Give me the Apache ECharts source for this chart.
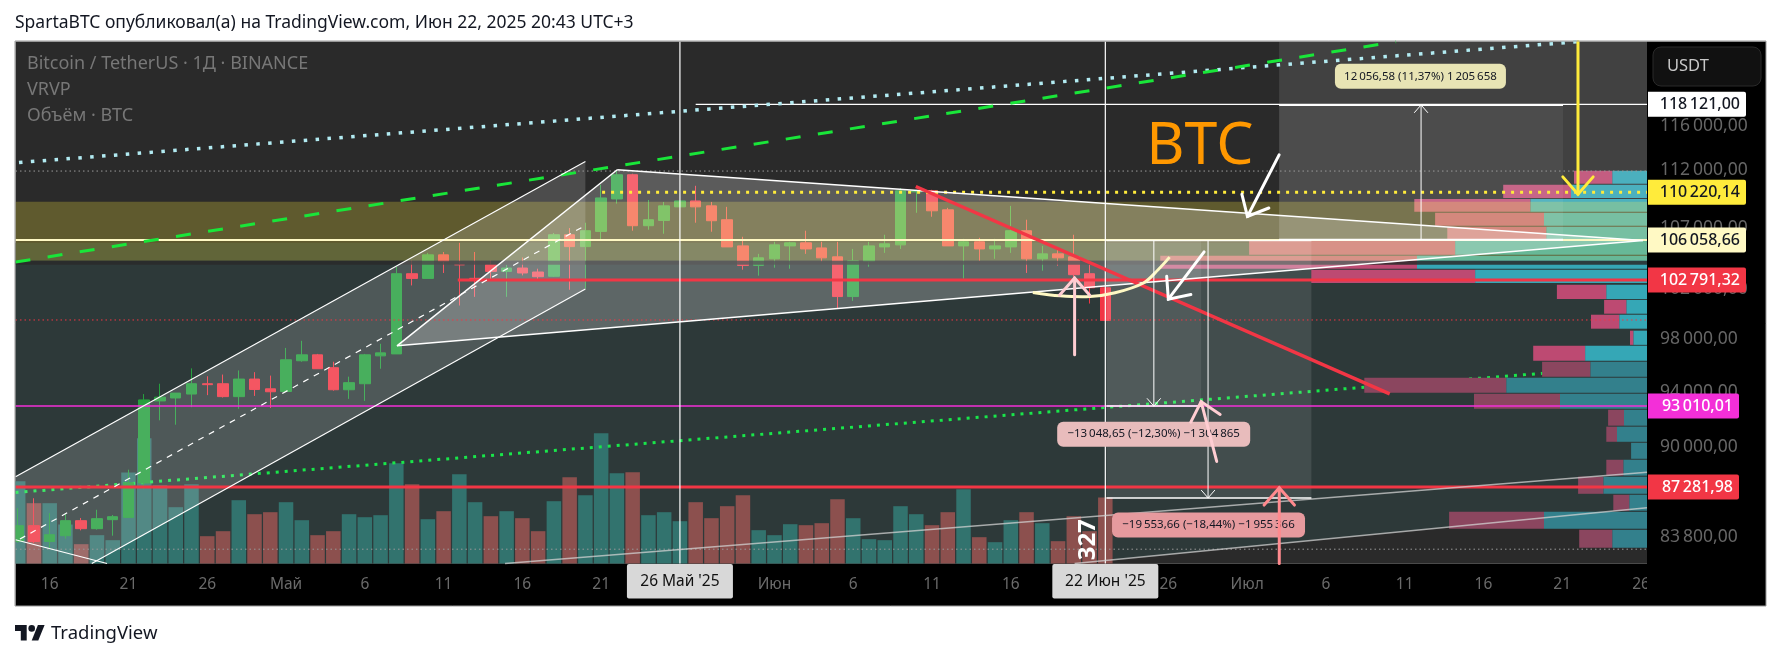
<!DOCTYPE html>
<html><head><meta charset="utf-8">
<script src="https://cdn.jsdelivr.net/npm/echarts@6/dist/echarts.min.js"></script>
<style>html,body{margin:0;padding:0;background:#fff}#c{width:1781px;height:660px}</style></head>
<body><div id="c"></div>
<script>
// ---- data (day = days after 16 Apr 2025) ----
const firstDay = -2;
const opens  = [83493,84545,83493,83875,84880,84344,84947,85100,87447,93320,93540,93830,94600,94600,93640,94950,94220,94020,96337,96790,95810,94150,94600,96710,96860,103212,102828,104763,103946,102828,103946,103400,103675,103350,103000,106443,105450,106724,109503,111623,107208,107658,108821,109330,108906,107717,105510,103889,104436,105510,105764,105340,104599,101360,104215,105425,105595,110120,110210,108566,105510,105849,105255,105425,106783,104436,104844,104599,103212,102069];
const closes = [84545,83493,83942,84880,84344,85014,85148,87470,93395,93600,93900,94600,94530,93640,94950,94170,94000,96412,96790,95730,94150,94680,96790,96940,103212,102828,104763,104215,103946,102828,103400,103675,103270,102967,106443,105450,106783,109592,111623,107208,107717,108906,109330,108821,107632,105425,103889,104517,105595,105764,105255,104517,101360,104272,105510,105679,110210,110210,108481,105510,105849,105255,105510,106783,104436,104844,104517,103130,102069,99466];
const lows   = [83400,83386,83050,83674,84230,84277,83875,85100,87030,91900,91580,92860,93750,93570,92740,93690,92800,94000,96260,95730,94080,93470,93320,95730,96860,102257,102828,103270,100643,101335,102722,101335,103073,102780,102940,101906,102000,106018,109100,106783,106868,106528,108821,107462,106698,105425,103538,103049,103701,103620,104844,104191,100408,101011,103783,104925,105255,108311,107972,105510,102804,104272,104436,104925,103270,103457,103864,102722,100800,99466];
const highs  = [85730,86400,85395,85395,85060,85616,85260,88376,93830,94600,93900,95760,95160,95290,95600,95470,95210,97320,97870,96860,96260,95130,96860,97640,103780,104272,104925,105000,105764,105000,104272,103946,104545,103620,106590,107010,107460,110739,111977,111711,109415,109245,109330,110651,109245,108821,106273,104844,105849,105849,106783,105849,105849,105255,105849,106443,110450,110300,110300,108736,106103,106188,106103,108906,107717,105510,105170,106443,103946,102069];
const volumes = [19760,14480,14480,9360,4640,6800,5600,21840,30080,18800,13520,19040,6560,7760,15200,11840,12320,14720,10400,6800,7760,11840,11120,11600,24080,19040,10640,12560,21440,14720,11360,12560,10880,7760,14960,20720,16400,31280,21680,21920,11600,12320,10160,14720,10880,13760,16400,8000,6800,9440,9200,9680,15440,10880,5840,5600,13760,11840,9200,12320,17840,6320,5120,10400,12320,9680,5360,11360,7760,15840];
const tickDays   = [0,5,10,15,20,25,30,35,40,46,51,56,61,66,71,76,81,86,91,96,101];
const tickLabels = ['16','21','26','Май','6','11','16','21','26','Июн','6','11','16','21','26','Июл','6','11','16','21','26'];
const priceTicks  = [116000,112000,107000,102000,98000,94000,90000,83800];
const priceTickTexts = ['116\u202f000,00','112\u202f000,00','107\u202f000,00','102\u202f000,00','98\u202f000,00','94\u202f000,00','90\u202f000,00','83\u202f800,00'];
// visible range profile: price bins with volumes
const profHigh = [111977,110739,109503,108311,107123,105934,104681,103538,102314,101090,99913,98658,97480,96262,95055,93847,92670,91437,90277,89073,87888,86634,85483,84277];
const profLow  = [110827,109592,108396,107208,106018,104763,103620,102453,101172,99992,98814,97558,96337,95130,93923,92743,91510,90350,89143,87958,86704,85549,84344,83071];
const profUp   = [34.8,76,116.7,103,100.8,191.9,230,171.9,40.8,20.7,27.8,13.7,61.9,56.7,140.8,87,23,30,15.9,23.7,43.7,17.8,103,34.8];
const profDown = [38.2,67.8,116,108.9,98.9,206,256.7,163.8,49.3,22.2,28.2,3.3,51.9,48.2,141.9,86,15.9,10.7,0,17,25.2,15.9,94.9,33];
// price lines
const lineTarget = 118027, lineYellow = 110094, linePale = 105994, lineRed = 102698, lineMagenta = 92938, lineRedLow = 87170;
const lineDotRed = 99498, lineDotGrayHi = 111950, lineDotGrayLo = 82984;
const badgeTexts = ['118\u202f121,00','110\u202f220,14','106\u202f058,66','102\u202f791,32','93\u202f010,01','87\u202f281,98'];
// drawings: [day, price]
const trendCyan   = [[-1.95,112710],[97,124020]];
const trendGreen  = [[-2.17,104166],[85.45,124020]];
const trendDotted = [[-2.17,86794],[101.19,95982]];
const trendRed    = [[54.97,110589],[85.05,93847]];
const channelTop  = [[-2.17,87888],[34,112799]];
const channelLow  = [[2.67,82049],[34,101963]];
const channelMid  = [[-1.89,83654],[34,107233]];
const channelEdge = [[-2.17,83607],[3.64,82049]];
const channelFill = [[-2.17,87888],[34,112799],[34,101963],[2.67,82049],[-2.17,82049]];
const triangle    = [[22.04,97480],[36.02,112065],[101.12,105960]];
const greyUp      = [[28.9,82049],[101.38,88188]];
const greyLow     = [[65.05,82049],[101.38,85750]];
const greenZone   = [[-2.17,105764],[101.38,105764],[101.38,85750],[65.05,82049],[-2.17,82049]];
const oliveBand   = [[-2.17,109270],[101.38,109270],[101.38,104272],[-2.17,104272]];
const darkStrip   = [[-2.17,104272],[101.38,104272],[101.38,103946],[-2.17,103946]];
const longArea    = [[78.03,124043],[101.38,124043],[101.38,106018],[78.03,106018]];
const longBox     = [[78.03,117962],[96.05,117962],[96.05,106018],[78.03,106018]];
const shortBoxA   = [[67.07,105970],[73.08,105970],[73.08,92938],[67.07,92938]];
const shortBoxB   = [[67.07,105970],[80.08,105970],[80.08,86424],[67.07,86424]];
const smile = [[62.4,101686],[64.13,101416],[66.03,101359],[67.62,101660],[69.42,102453],[70.35,103538],[71.08,104575]];
const arrowWhiteA = [[78.03,113391],[76.02,107997]];
const arrowWhiteB = [[73.27,105007],[71,101147]];
const arrowPinkA  = [[65.05,96789],[65.05,102861]];
const arrowPinkB  = [[74.07,88955],[73.08,93272]];
const arrowPinkC  = [[78.04,82049],[78.04,87121]];
const arrowYellow = [[97,124043],[97,109919]];
const measureLong = [[87.04,106018],[87.04,117962]];
const measureA    = [[70.08,105970],[70.08,92938]];
const measureB    = [[73.52,105970],[73.52,86424]];
const longLabel = [87,120674], shortLabelA = [70.07,90894], shortLabelB = [73.55,84591];
const btcAt = [73,114109], rotatedAt = [65.9,83607];
const crossDays = [40,67], crossLabels = ["26 Май '25","22 Июн '25"];

// ---- drawing helpers ----
const FONT = '"Noto Sans", sans-serif';
const xMin=-2.171,xMax=101.38,pMin=82049,pMax=124043;
const pts=(api,a)=>a.map(p=>api.coord(p));
const line=(a,stroke,lineWidth,lineDash,extra)=>api=>({type:'polyline',shape:Object.assign({points:pts(api,a)},extra||{}),style:{stroke,lineWidth,lineDash:lineDash||null,fill:'none',lineCap:'butt'}});
const hline=(p,d1,d2,stroke,w,dash)=>line([[d1,p],[d2,p]],stroke,w,dash);
const vline=(d,stroke,w)=>line([[d,pMax],[d,pMin]],stroke,w);
const poly=(a,fill)=>api=>({type:'polygon',shape:{points:pts(api,a)},style:{fill}});
const arrow=(a,stroke,w,h)=>api=>{
  const [p0,p1]=pts(api,a);const ang=Math.atan2(p0[1]-p1[1],p0[0]-p1[0]);const t=0.72;
  const l=[p1[0]+h*Math.cos(ang+t),p1[1]+h*Math.sin(ang+t)],r=[p1[0]+h*Math.cos(ang-t),p1[1]+h*Math.sin(ang-t)];
  return {type:'group',children:[
    {type:'polyline',shape:{points:[p0,p1]},style:{stroke,lineWidth:w,fill:'none',lineCap:'round'}},
    {type:'polyline',shape:{points:[l,p1,r]},style:{stroke,lineWidth:w,fill:'none',lineCap:'round',lineJoin:'miter'}}]};
};
const tag=(at,w,h,fill,text,color,fs)=>api=>{const c=api.coord(at);return {type:'group',children:[
  {type:'rect',shape:{x:c[0]-w/2,y:c[1]-h/2,width:w,height:h,r:6},style:{fill}},
  {type:'text',style:{x:c[0],y:c[1],text,fill:color,font:fs+'px '+FONT,align:'center',verticalAlign:'middle'}}]};};
const label=(at,text,font,fill,rot)=>api=>{const c=api.coord(at);return {type:'text',x:c[0],y:c[1],rotation:rot||0,style:{x:0,y:0,text,fill,font,align:'center',verticalAlign:'middle'}};};
const priceBadge=(p,text,fill,color,w)=>api=>{const y=api.coord([0,p])[1];return {type:'group',children:[
  {type:'rect',shape:{x:1648,y:y-12.5,width:w,height:25,r:[0,2,2,0]},style:{fill}},
  {type:'text',style:{x:1648+w-6,y,text,fill:color,font:'500 16px '+FONT,align:'right',verticalAlign:'middle'}}]};};
const priceTick=(p,text)=>api=>({type:'text',style:{x:1660,y:api.coord([0,p])[1],text,fill:'#666',font:'17.5px '+FONT,align:'left',verticalAlign:'middle'}});
const crossBox=(d,text)=>api=>{const x=api.coord([d,pMin])[0];return {type:'group',children:[
  {type:'rect',shape:{x:x-53,y:564,width:106,height:34.5,r:2},style:{fill:'#d8d8d8'}},
  {type:'text',style:{x,y:582,text,fill:'#111',font:'15.5px '+FONT,align:'center',verticalAlign:'middle'}}]};};

function layer(z,items,name){return {type:'custom',name,z,silent:true,xAxisIndex:0,yAxisIndex:0,encode:{x:0,y:1},
  data:items.map((_,i)=>[i,100000]),renderItem:(p,api)=>items[p.dataIndex](api)};}

const WHITE='#ffffff',RED='#f23645',PALE='#fff9c4',PINK='#ffcdd2';
const candleData=opens.map((o,i)=>[firstDay+i,o,closes[i],lows[i],highs[i]]);
const volData=volumes.map((v,i)=>({value:[firstDay+i,v],itemStyle:{color:closes[i]>=opens[i]?'#32736e':'#8c504e'}}));

const profileSeries={type:'custom',name:'VRVP',z:6,silent:true,xAxisIndex:1,yAxisIndex:0,encode:{x:0,y:1},
  data:profUp.map((_,i)=>[i,100000]),
  renderItem:(p,api)=>{const i=p.dataIndex,dim=i>=13;
    const a=api.coord([0,profHigh[i]]),b=api.coord([profUp[i],profLow[i]]),c=api.coord([profUp[i]+profDown[i],profLow[i]]);
    return {type:'group',children:[
      {type:'rect',shape:{x:b[0],y:a[1],width:a[0]-b[0],height:b[1]-a[1]},style:{fill:dim?'#33808c':'#35a7b6'}},
      {type:'rect',shape:{x:c[0],y:a[1],width:b[0]-c[0],height:b[1]-a[1]},style:{fill:dim?'#8b465f':'#bd4a72'}}]};}};

const option={
  animation:false,backgroundColor:'#fff',
  grid:{left:15.5,top:41.5,width:1631.5,height:522,show:true,backgroundColor:'#2a2a2a',borderWidth:0,containLabel:false},
  xAxis:[
   {type:'value',min:xMin,max:xMax,z:2,axisLine:{show:false},axisTick:{show:false},splitLine:{show:false},
    axisLabel:{customValues:tickDays,formatter:v=>tickLabels[tickDays.indexOf(v)],color:'#6a6a6a',fontSize:15.5,margin:13,fontFamily:FONT}},
   {type:'value',min:0,max:1631.5,inverse:true,show:false,splitLine:{show:false}}],
  yAxis:[
   {type:'log',min:pMin,max:pMax,show:false,splitLine:{show:false}},
   {type:'value',min:0,max:125328,show:false,splitLine:{show:false}}],
  graphic:[
   {type:'rect',z:1,shape:{x:15.5,y:563.5,width:1632,height:42.5},style:{fill:'#000'}},
   {type:'rect',z:3,shape:{x:1647,y:41.5,width:119,height:564.5},style:{fill:'#000'}},
   {type:'rect',z:29,shape:{x:0,y:41,width:15,height:565},style:{fill:'#fff'}},
   {type:'rect',z:30,shape:{x:15,y:41,width:1751,height:565},style:{fill:'none',stroke:'#9a9a9a',lineWidth:1}},
   {type:'text',z:30,style:{x:15,y:23,text:'SpartaBTC опубликовал(а) на TradingView.com, Июн 22, 2025 20:43 UTC+3',fill:'#131722',font:'17.5px '+FONT,verticalAlign:'middle'}},
   {type:'polygon',z:30,shape:{points:[[15,625],[26.7,625],[26.7,640.5],[20.8,640.5],[20.8,631],[15,631]]},style:{fill:'#131722'}},
   {type:'circle',z:30,shape:{cx:31.7,cy:628.4,r:3.3},style:{fill:'#131722'}},
   {type:'polygon',z:30,shape:{points:[[37.9,625],[44.6,625],[38.3,640.5],[31.7,640.5]]},style:{fill:'#131722'}},
   {type:'text',z:30,style:{x:51,y:634,text:'TradingView',fill:'#131722',font:'18.5px '+FONT,verticalAlign:'middle'}},
   {type:'text',z:30,style:{x:27,y:64,text:'Bitcoin / TetherUS · 1Д · BINANCE',fill:'#777',font:'18px '+FONT,verticalAlign:'middle'}},
   {type:'text',z:30,style:{x:27,y:90,text:'VRVP',fill:'#777',font:'18px '+FONT,verticalAlign:'middle'}},
   {type:'text',z:30,style:{x:27,y:116,text:'Объём · BTC',fill:'#777',font:'18px '+FONT,verticalAlign:'middle'}},
   {type:'rect',z:31,shape:{x:1653,y:47,width:108,height:39,r:8},style:{fill:'#111',stroke:'#2a2a2a',lineWidth:1}},
   {type:'text',z:32,style:{x:1667,y:66.5,text:'USDT',fill:'#c8c8c8',font:'16.5px '+FONT,verticalAlign:'middle'}}
  ],
  series:[
   layer(4,[poly(greenZone,'#2d3939')],'zone'),
   {type:'bar',name:'Объём',z:5,xAxisIndex:0,yAxisIndex:1,barWidth:14.5,data:volData,silent:true},
   layer(5.5,[line(trendDotted,'#19e64a',3,[3,6])],'dotted'),
   profileSeries,
   {type:'candlestick',name:'BTCUSDT',z:7,xAxisIndex:0,yAxisIndex:0,barWidth:11,encode:{x:0,y:[1,2,3,4]},data:candleData,silent:true,
    itemStyle:{color:'#26a03e',color0:RED,borderColor:'#26a03e',borderColor0:RED,borderWidth:1}},
   layer(8,[
     poly(oliveBand,'rgba(255,235,59,0.25)'),
     poly(darkStrip,'rgba(42,42,42,0.85)'),
     poly(channelFill,'rgba(255,255,255,0.16)'),
     poly(triangle,'rgba(255,255,255,0.23)'),
     poly(longArea,'rgba(255,255,255,0.11)'),
     poly(longBox,'rgba(255,255,255,0.06)'),
     poly(shortBoxA,'rgba(255,255,255,0.08)'),
     poly(shortBoxB,'rgba(255,255,255,0.10)')
   ],'fills'),
   layer(9,[
     hline(lineDotGrayHi,xMin,xMax,'#999',1,[1.5,3]),
     hline(lineDotGrayLo,xMin,xMax,'#999',1,[1.5,3]),
     hline(lineDotRed,xMin,xMax,RED,1,[1.5,3]),
     hline(lineMagenta,xMin,xMax,'#f32fd8',1.5),
     hline(lineRedLow,xMin,xMax,RED,3),
     hline(lineRed,25.9,xMax,RED,3),
     hline(linePale,xMin,xMax,PALE,2),
     hline(lineTarget,41,xMax,WHITE,1.2),
     hline(lineYellow,35.06,xMax,'#ffeb3b',3,[3,6]),
     vline(crossDays[0],WHITE,1.2),vline(crossDays[1],WHITE,1.2),
     line(trendCyan,'#b2ebf2',3.5,[3.5,8.4]),
     line(trendGreen,'#19e639',3,[15,17.5]),
     line(channelTop,WHITE,1.2),line(channelLow,WHITE,1.2),line(channelMid,WHITE,1.2,[6,6]),line(channelEdge,WHITE,1.2),
     line([triangle[0],triangle[1]],WHITE,1.5),line([triangle[1],triangle[2]],WHITE,1.5),line([triangle[0],triangle[2]],WHITE,1.5),
     line(greyUp,'rgba(210,210,210,0.75)',1.5),line(greyLow,'rgba(210,210,210,0.75)',1.5),
     line(trendRed,RED,3.5),
     line(smile,PALE,3,null,{smooth:0.35}),
     hline(longBox[0][1],longBox[0][0],longBox[1][0],WHITE,2),
     hline(longBox[2][1],longBox[0][0],longBox[1][0],WHITE,2),
     hline(shortBoxA[2][1],shortBoxA[0][0],shortBoxA[1][0],WHITE,1.5),
     hline(shortBoxB[2][1],shortBoxB[0][0],shortBoxB[1][0],WHITE,1.5),
     hline(shortBoxB[0][1],shortBoxB[0][0],shortBoxB[1][0],'rgba(255,255,255,0.8)',1.5),
     arrow(measureLong,WHITE,1,10),arrow(measureA,WHITE,1,10),arrow(measureB,WHITE,1,10),
     tag(longLabel,171,25,'#e8e4b4','12\u202f056,58 (11,37%) 1\u202f205\u202f658','#131722',11.5),
     tag(shortLabelA,193,25,'#e8bcbc','−13\u202f048,65 (−12,30%) −1\u202f304\u202f865','#131722',11.5),
     tag(shortLabelB,193,25,'#e69a9e','−19\u202f553,66 (−18,44%) −1\u202f955\u202f366','#131722',11.5),
     arrow(arrowWhiteA,WHITE,3,23),arrow(arrowWhiteB,WHITE,3,23),
     arrow(arrowPinkA,PINK,3,23),arrow(arrowPinkB,PINK,3,23),arrow(arrowPinkC,'#ff8a8e',3,23),
     arrow(arrowYellow,'#ffeb3b',3,23),
     label(btcAt,'BTC','59px '+FONT,'#ff9800'),
     label(rotatedAt,'327','bold 24px '+FONT,'#ffffff',Math.PI/2)
   ],'tools'),
   layer(20,priceTicks.map((p,i)=>priceTick(p,priceTickTexts[i])).concat(crossDays.map((d,i)=>crossBox(d,crossLabels[i]))),'axisTexts'),
   layer(21,[
     priceBadge(lineTarget,badgeTexts[0],'#ffffff','#131722',98),
     priceBadge(lineYellow,badgeTexts[1],'#ffeb3b','#131722',98),
     priceBadge(linePale,badgeTexts[2],'#fff9c4','#131722',98),
     priceBadge(lineRed,badgeTexts[3],RED,'#ffffff',98),
     priceBadge(lineMagenta,badgeTexts[4],'#f32fd8','#ffffff',91),
     priceBadge(lineRedLow,badgeTexts[5],RED,'#ffffff',91)
   ],'badges')
  ]
};
echarts.init(document.getElementById('c'),null,{renderer:'canvas'}).setOption(option);
</script></body></html>
